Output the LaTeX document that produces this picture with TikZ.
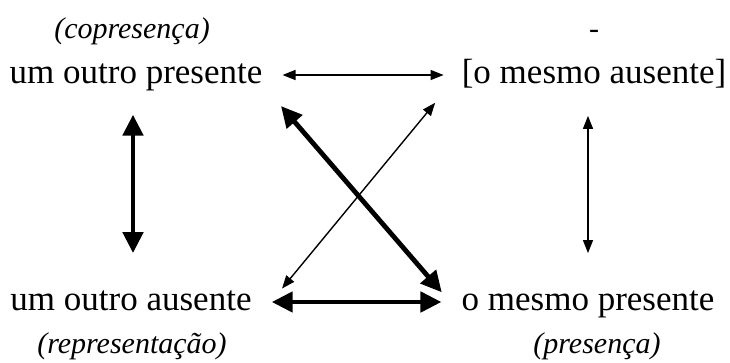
\documentclass[tikz,border=0pt]{standalone}
\usepackage{fontspec}
\setmainfont{Liberation Serif}
\usetikzlibrary{arrows.meta,positioning}

\begin{document}
\begin{tikzpicture}[
  x=1pt,y=1pt,
  node distance=2pt,
  term/.style={inner sep=0pt,anchor=base,font=\fontsize{35}{39}\selectfont},
  note/.style={inner sep=0pt,font=\fontsize{30}{34}\selectfont\itshape},
  thinarr/.style={{Triangle[length=13pt,width=10pt]}-{Triangle[length=13pt,width=10pt]},line width=1.4pt},
  thickarr/.style={{Triangle[length=21pt,width=20pt]}-{Triangle[length=21pt,width=20pt]},line width=4.8pt}
]
\useasboundingbox (0,0) rectangle (730,362);
\node[term] (op) at (136,278) {um outro presente};
\node[term] (ma) at (594,278) {[o mesmo ausente]};
\node[term] (oa) at (131,52) {um outro ausente};
\node[term] (mp) at (588,52) {o mesmo presente};
\node[note,above=19pt of op,xshift=-4pt] (copres) {(copresença)};
\node[note,anchor=base] (nada) at (ma |- copres.base) {-};
\node[note,below=22pt of oa,xshift=1pt] (repres) {(representação)};
\node[note,below=15pt of mp,xshift=9pt] (pres) {(presença)};
\draw[thinarr,shorten <=20pt,shorten >=18pt] ([yshift=9pt]op.base east) -- ([yshift=9pt]ma.base west);
\draw[thickarr,shorten <=20pt,shorten >=20pt] ([yshift=8pt]oa.base east) -- ([yshift=8pt]mp.base west);
\draw[thickarr,shorten <=23pt,shorten >=37pt] ([xshift=-3pt]op.south) -- ([xshift=2pt]oa.north);
\draw[thinarr,shorten <=27pt,shorten >=37pt] ([xshift=-6pt]ma.south) -- (mp.north);
\draw[thickarr,shorten <=19pt,shorten >=1pt] ([xshift=6pt]op.south east) -- ([xshift=-19pt,yshift=-3pt]mp.north west);
\draw[thinarr,shorten <=18pt,shorten >=2pt] ([xshift=-15pt]ma.south west) -- ([xshift=29pt]oa.north east);
\end{tikzpicture}
\end{document}
